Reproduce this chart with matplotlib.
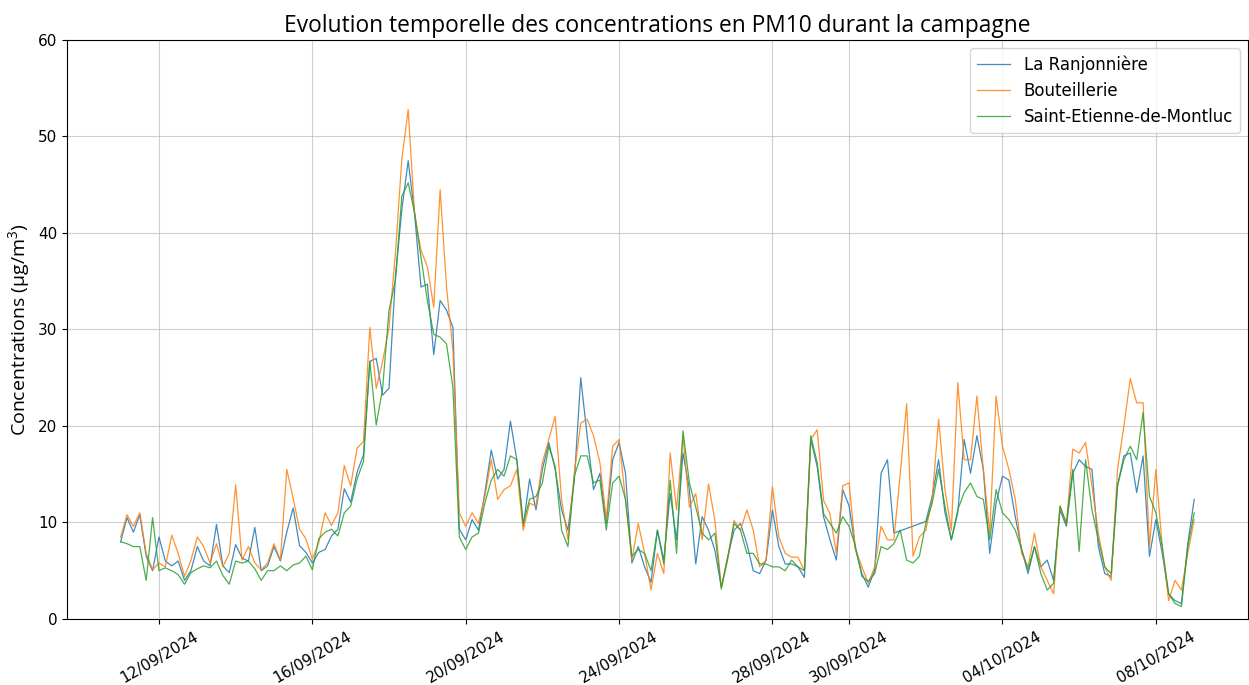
"""
Evolution temporelle des concentrations en PM10 durant la campagne.
Valeurs relevées toutes les 4 h sur les trois sites de mesure.
"""

import matplotlib

matplotlib.use("Agg")
import matplotlib.dates as mdates
import matplotlib.pyplot as plt
import numpy as np
import pandas as pd

START = "2024-09-11 00:00"
STEP = "4h"

SITES = ["La Ranjonnière", "Bouteillerie", "Saint-Etienne-de-Montluc"]

# PM10 (µg/m3), un point toutes les 4 h, NaN = pas de mesure
ranjonniere = [
    8.0, 10.5, 9.0, 10.8, 6.5, 5.0, 8.5, 6.0, 5.5, 6.0, 4.0, 5.0,
    7.5, 6.0, 5.5, 9.8, 5.5, 4.8, 7.7, 6.3, 6.0, 9.5, 5.0, 5.5,
    7.5, 6.0, 9.0, 11.5, 7.6, 6.9, 5.8, 6.9, 7.2, 8.6, 9.3, 13.5,
    12.1, 15.2, 17.0, 26.7, 27.0, 23.2, 23.9, 35.4, 42.4, 47.5, 42.0, 34.4,
    34.7, 27.4, 33.0, 32.0, 30.2, 9.3, 8.2, 10.3, 9.2, 13.1, 17.5, 14.5,
    15.5, 20.5, 16.5, 9.6, 14.5, 11.3, 15.5, 18.3, 15.5, 11.3, 9.2, 14.4,
    25.0, 19.0, 13.4, 15.1, 9.9, 16.5, 18.3, 15.1, 5.8, 7.5, 5.4, 3.8,
    9.2, 6.1, 13.0, 8.2, 17.2, 13.4, 5.7, 10.6, 9.2, 7.1, 3.3, 6.4,
    9.2, 9.9, 7.8, 5.0, 4.7, 6.1, 11.3, 7.5, 5.7, 5.7, 5.4, 4.3,
    18.6, 15.8, 10.6, 8.2, 6.1, 13.4, 11.7, 7.2, 4.7, 3.3, 5.1, 15.1,
    16.5, 8.9, np.nan, np.nan, np.nan, np.nan, 10.1, 12.7, 16.5, 11.0, 8.2, 11.0,
    18.6, 15.1, 19.0, 15.5, 6.8, 12.0, 14.8, 14.4, 10.6, 7.2, 4.7, 7.5,
    5.4, 6.1, 4.0, 11.3, 9.6, 15.1, 16.5, 15.8, 15.5, 7.5, 4.7, 4.4,
    13.8, 16.9, 17.2, 13.1, 16.9, 6.5, 10.3, 6.8, 2.6, 1.9, 1.6, 7.8,
    12.4,
]
bouteillerie = [
    8.5, 10.8, 9.6, 11.0, 6.8, 5.1, 5.8, 5.4, 8.7, 6.8, 4.4, 6.1,
    8.5, 7.5, 5.8, 7.8, 5.4, 6.8, 13.9, 6.1, 7.5, 5.8, 5.1, 5.8,
    7.8, 6.1, 15.5, 12.5, 9.3, 8.3, 6.2, 7.9, 11.0, 9.7, 11.0, 15.9,
    13.8, 17.7, 18.4, 30.2, 23.9, 26.7, 30.2, 37.9, 47.6, 52.8, 42.0, 38.2,
    36.5, 32.3, 44.5, 34.4, 27.8, 11.0, 9.6, 11.0, 9.9, 12.7, 16.5, 12.4,
    13.4, 13.8, 15.5, 9.2, 12.0, 11.7, 16.2, 18.6, 21.0, 12.4, 8.2, 15.1,
    20.3, 20.7, 19.0, 16.2, 10.3, 17.9, 18.6, 12.4, 6.1, 9.9, 6.8, 3.0,
    6.8, 4.7, 17.2, 11.3, 19.0, 11.6, 13.0, 8.2, 14.0, 10.2, 3.3, 6.1,
    10.2, 9.2, 11.3, 9.2, 5.4, 6.1, 13.7, 8.5, 6.8, 6.4, 6.4, 5.0,
    18.6, 19.6, 12.3, 10.9, 6.8, 13.8, 14.1, 7.2, 5.4, 3.7, 5.4, 9.6,
    8.2, 8.2, 15.0, 22.3, 6.5, 8.5, 9.2, 12.4, 20.7, 13.4, 9.2, 24.5,
    16.5, 16.5, 23.1, 15.5, 8.9, 23.1, 17.9, 15.5, 12.4, 6.8, 5.4, 8.9,
    5.4, 4.0, 2.6, 11.7, 9.9, 17.6, 17.2, 18.3, 13.8, 8.9, 5.4, 4.0,
    15.5, 20.0, 24.9, 22.4, 22.4, 7.5, 15.5, 7.5, 1.9, 4.0, 3.0, 6.8,
    10.3,
]
st_etienne = [
    8.0, 7.8, 7.5, 7.5, 4.0, 10.5, 5.0, 5.3, 5.0, 4.6, 3.6, 4.8,
    5.2, 5.5, 5.3, 6.0, 4.5, 3.6, 6.0, 5.8, 6.0, 5.2, 4.0, 5.0,
    5.0, 5.5, 5.0, 5.6, 5.8, 6.5, 5.1, 8.3, 9.0, 9.3, 8.6, 11.0,
    11.7, 14.5, 16.3, 26.7, 20.1, 23.9, 32.0, 35.1, 43.8, 45.2, 42.1, 37.5,
    33.0, 29.5, 29.2, 28.5, 24.0, 8.5, 7.2, 8.5, 8.9, 12.0, 14.4, 15.5,
    14.8, 16.9, 16.5, 9.9, 12.4, 12.7, 14.1, 17.9, 15.8, 9.2, 7.5, 14.8,
    16.9, 16.9, 14.1, 14.4, 9.2, 14.1, 14.8, 12.4, 6.5, 7.2, 6.8, 5.0,
    9.2, 5.7, 14.4, 6.8, 19.5, 14.1, 11.6, 8.9, 8.2, 8.9, 3.1, 6.4,
    9.9, 9.2, 6.8, 6.8, 5.7, 5.7, 5.4, 5.4, 5.0, 6.1, 5.4, 5.0,
    19.0, 16.2, 10.9, 9.9, 8.9, 10.6, 9.6, 7.5, 4.4, 3.9, 4.7, 7.5,
    7.2, 7.8, 9.2, 6.1, 5.8, 6.5, 9.9, 12.0, 15.5, 11.7, 8.2, 11.3,
    13.1, 14.1, 12.7, 12.4, 8.2, 13.4, 11.0, 10.3, 9.2, 7.2, 5.1, 7.5,
    4.7, 3.0, 3.7, 11.7, 9.9, 15.5, 7.0, 16.5, 11.3, 8.2, 5.4, 4.7,
    13.8, 16.5, 17.9, 16.5, 21.4, 12.7, 11.0, 7.5, 2.6, 1.6, 1.3, 7.5,
    11.0,
]

TICK_DATES = ["2024-09-12", "2024-09-16", "2024-09-20", "2024-09-24",
              "2024-09-28", "2024-09-30", "2024-10-04", "2024-10-08"]


def main():
    times = pd.date_range(START, periods=len(ranjonniere), freq=STEP)
    df = pd.DataFrame(
        {SITES[0]: ranjonniere, SITES[1]: bouteillerie, SITES[2]: st_etienne},
        index=times,
    )

    plt.rcParams["mathtext.default"] = "regular"
    fig = plt.figure(figsize=(12.49, 6.85), dpi=100)
    ax = fig.add_axes([0.0536, 0.0964, 0.9455, 0.8452])

    for name in SITES:
        s = df[name].dropna()
        ax.plot(s.index, s.values, lw=0.9, alpha=0.85, label=name)

    ax.set_ylim(0, 60)
    ax.set_xticks(pd.to_datetime(TICK_DATES))
    ax.xaxis.set_major_formatter(mdates.DateFormatter("%d/%m/%Y"))
    ax.tick_params(axis="both", labelsize=11)
    plt.setp(ax.get_xticklabels(), rotation=30)
    ax.grid(True, color="#b0b0b0", alpha=0.6)

    ax.set_title("Evolution temporelle des concentrations en PM10 durant la campagne",
                 family="Open Sans", fontsize=16.4)
    ax.set_ylabel("Concentrations (µg/m$^3$)", family="Open Sans", fontsize=14)
    ax.legend(loc="upper right", fontsize=12)

    fig.savefig("out.png", dpi=100)


if __name__ == "__main__":
    main()
